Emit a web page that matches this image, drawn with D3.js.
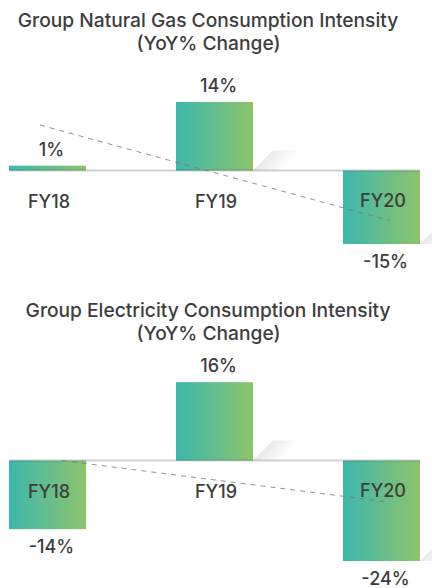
<!DOCTYPE html>
<html>
<head>
<meta charset="utf-8">
<script src="https://cdn.jsdelivr.net/npm/d3@7"></script>
<style>
  html, body { margin: 0; padding: 0; background: #fff; }
  svg { display: block; font-family: Inter, "Noto Sans", sans-serif; }
</style>
</head>
<body>
<svg id="chart" width="432" height="588"></svg>
<script>
// ---- data ----
const categories = ["FY18", "FY19", "FY20"];
const gasTitle = ["Group Natural Gas Consumption Intensity", "(YoY% Change)"];
const gasValues = [1, 14, -15];
const gasTrend = [[-0.045, 9.3], [2.05, -10.2]];        // [category index, value]
const elecTitle = ["Group Electricity Consumption Intensity", "(YoY% Change)"];
const elecValues = [-14, 16, -24];
const elecTrend = [[0.087, 0.0], [2.05, -8.5]];
const valueDomain = [-20.5, 22.5];

const svg = d3.select("#chart");
const defs = svg.append("defs");
const grad = defs.append("linearGradient").attr("id", "barGrad")
  .attr("x1", "0").attr("x2", "1").attr("y1", "0").attr("y2", "0");
grad.append("stop").attr("offset", "0").attr("stop-color", "#3db7ae");
grad.append("stop").attr("offset", "1").attr("stop-color", "#8dc46b");
const sgrad = defs.append("linearGradient").attr("id", "shadowGrad")
  .attr("x1", "0").attr("x2", "1").attr("y1", "0").attr("y2", "0.4");
sgrad.append("stop").attr("offset", "0.25").attr("stop-color", "#000").attr("stop-opacity", 0.11);
sgrad.append("stop").attr("offset", "0.85").attr("stop-color", "#000").attr("stop-opacity", 0);

const x = d3.scaleBand().domain(categories).range([9, 420]).paddingInner(0.539).paddingOuter(0);
const center = i => x(categories[0]) + x.bandwidth() / 2 + i * x.step();
const textColor = "#3d3d3d";

function drawChart(offsetY, title, values, trend) {
  const g = svg.append("g").attr("transform", `translate(0,${offsetY})`);
  const y = d3.scaleLinear().domain(valueDomain).range([271, 60.3]).clamp(true);
  const y0 = y(0);

  // title
  g.append("text").attr("x", 208).attr("y", 27).attr("text-anchor", "middle")
    .attr("font-size", 19.2).attr("font-weight", 500).attr("fill", textColor).text(title[0]);
  g.append("text").attr("x", 208.5).attr("y", 50).attr("text-anchor", "middle")
    .attr("font-size", 19.2).attr("font-weight", 500).attr("fill", textColor).text(title[1]);

  // shadows
  values.forEach((v, i) => {
    if (i === 0) return;
    const r = x(categories[i]) + x.bandwidth();
    const b = v >= 0 ? y0 : y(v);
    g.append("path")
      .attr("d", `M${r},${b}L${r + 20},${b - 20}L${r + 48},${b - 20}L${r + 48},${b}Z`)
      .attr("fill", "url(#shadowGrad)");
  });

  // bars
  g.selectAll("rect.bar").data(values).enter().append("rect")
    .attr("class", "bar")
    .attr("x", (d, i) => x(categories[i]))
    .attr("width", x.bandwidth())
    .attr("y", d => Math.min(y(d), y0))
    .attr("height", d => Math.abs(y(d) - y0))
    .attr("fill", "url(#barGrad)");

  // baseline
  g.append("line").attr("x1", 9).attr("x2", 420).attr("y1", y0).attr("y2", y0)
    .attr("stroke", "#000").attr("stroke-opacity", 0.18).attr("stroke-width", 2);

  // trend line
  const line = d3.line().x(d => center(d[0])).y(d => y(d[1]));
  g.append("path").attr("d", line(trend)).attr("fill", "none")
    .attr("stroke", "#777").attr("stroke-opacity", 0.8).attr("stroke-width", 1)
    .attr("stroke-dasharray", "5,5");

  // category labels
  categories.forEach((c, i) => {
    g.append("text").attr("x", center(i) + 1.5).attr("y", i === 2 ? 206.5 : 208)
      .attr("text-anchor", "middle").attr("font-size", 18).attr("font-weight", 500)
      .attr("fill", textColor).text(c);
  });

  // value labels
  values.forEach((v, i) => {
    const ty = v >= 0 ? y(v) - 10 : y(v) + 24;
    g.append("text").attr("x", center(i) + 4).attr("y", ty)
      .attr("text-anchor", "middle").attr("font-size", 18).attr("font-weight", 500)
      .attr("fill", textColor).text(v + "%");
  });
}

drawChart(0, gasTitle, gasValues, gasTrend);
drawChart(290, elecTitle, elecValues, elecTrend);
</script>
</body>
</html>
